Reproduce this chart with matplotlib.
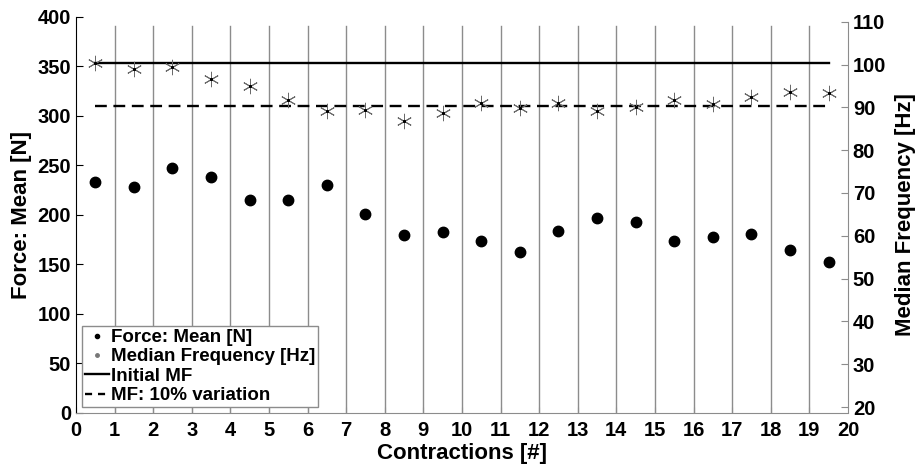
import matplotlib.pyplot as plt
from matplotlib.lines import Line2D

plt.rcParams['font.family'] = ['Liberation Sans', 'DejaVu Sans']
plt.rcParams['font.weight'] = 'bold'

# contraction index (centre of each bin)
contraction = [0.5, 1.5, 2.5, 3.5, 4.5, 5.5, 6.5, 7.5, 8.5, 9.5,
               10.5, 11.5, 12.5, 13.5, 14.5, 15.5, 16.5, 17.5, 18.5, 19.5]
force_mean = [233, 228, 247, 238, 215.5, 215.5, 230.5, 201, 179.5, 182.5,
              173.5, 162.5, 184, 197, 193, 174, 178, 180.5, 164.5, 152.5]
median_freq = [100.4, 99.0, 99.5, 96.5, 95.0, 91.6, 89.1, 89.4, 86.8, 88.7,
               90.9, 89.9, 90.9, 89.1, 90.1, 91.6, 90.7, 92.3, 93.5, 93.3]
x_ticks = list(range(0, 21))
left_ticks = list(range(0, 401, 50))
right_ticks = list(range(20, 111, 10))

initial_mf = median_freq[0]
mf_limit = 0.9 * initial_mf

grey = '#8c8c8c'

fig = plt.figure(figsize=(9.21, 4.72), dpi=100)
ax = fig.add_axes([0.0825, 0.125, 0.8382, 0.839])
ax2 = ax.twinx()

for x in x_ticks[1:-1]:
    ax.axvline(x, ymin=0, ymax=0.977, color=grey, lw=1.0, zorder=0)

ax.plot(contraction, force_mean, 'o', color='k', markersize=7.5, zorder=3)
ax2.plot([contraction[0], contraction[-1]], [initial_mf, initial_mf], '-', color='k', lw=1.7)
ax2.plot([contraction[0], contraction[-1]], [mf_limit, mf_limit], color='k', lw=1.7,
         ls=(0, (5, 2.8)))
ax2.plot(contraction, median_freq, ls='none', marker=(6, 2, 0), color='#6a6a6a',
         markersize=11, markeredgewidth=0.7)
ax2.plot(contraction, median_freq, ls='none', marker='s', color='k', markersize=1.2)

ax.set_xlim(0, 20)
ax.set_ylim(0, 400)
ax2.set_ylim(18.6, 111.1)
ax.set_xticks(x_ticks)
ax.set_yticks(left_ticks)
ax2.set_yticks(right_ticks)

ax.spines['top'].set_visible(False)
ax2.spines['top'].set_visible(False)
ax.spines['right'].set_visible(False)
ax2.spines['left'].set_visible(False)
ax2.spines['bottom'].set_visible(False)
ax.spines['bottom'].set_color(grey)
ax.spines['left'].set_color('k')
ax2.spines['right'].set_color(grey)
ax2.spines['right'].set_bounds(20, 110)

ax.tick_params(axis='y', direction='in', length=5, labelsize=14.5, color='k')
ax.tick_params(axis='x', direction='in', length=4, labelsize=14.5, color=grey, pad=6)
ax2.tick_params(axis='y', direction='in', length=5, labelsize=14.5, color=grey)

ax.set_xlabel('Contractions [#]', fontsize=16, fontweight='bold', labelpad=2)
ax.set_ylabel('Force: Mean [N]', fontsize=16, fontweight='bold', labelpad=4)
ax2.set_ylabel('Median Frequency [Hz]', fontsize=16, fontweight='bold', labelpad=6)

handles = [
    Line2D([], [], ls='none', marker='.', color='k', markersize=6),
    Line2D([], [], ls='none', marker='.', color='#777777', markersize=5),
    Line2D([], [], ls='-', color='k', lw=1.7),
    Line2D([], [], color='k', lw=1.7, ls=(0, (3, 2.5))),
]
labels = ['Force: Mean [N]', 'Median Frequency [Hz]', 'Initial MF', 'MF: 10% variation']
leg = ax2.legend(handles, labels, loc='lower left', bbox_to_anchor=(0.008, 0.015),
                 borderaxespad=0, fancybox=False, framealpha=1, edgecolor=grey,
                 prop={'size': 13.5, 'weight': 'bold'}, handlelength=1.3,
                 handletextpad=0.1, labelspacing=0.12, borderpad=0.15)
leg.get_frame().set_linewidth(1.0)

fig.savefig('out.png', dpi=100)
